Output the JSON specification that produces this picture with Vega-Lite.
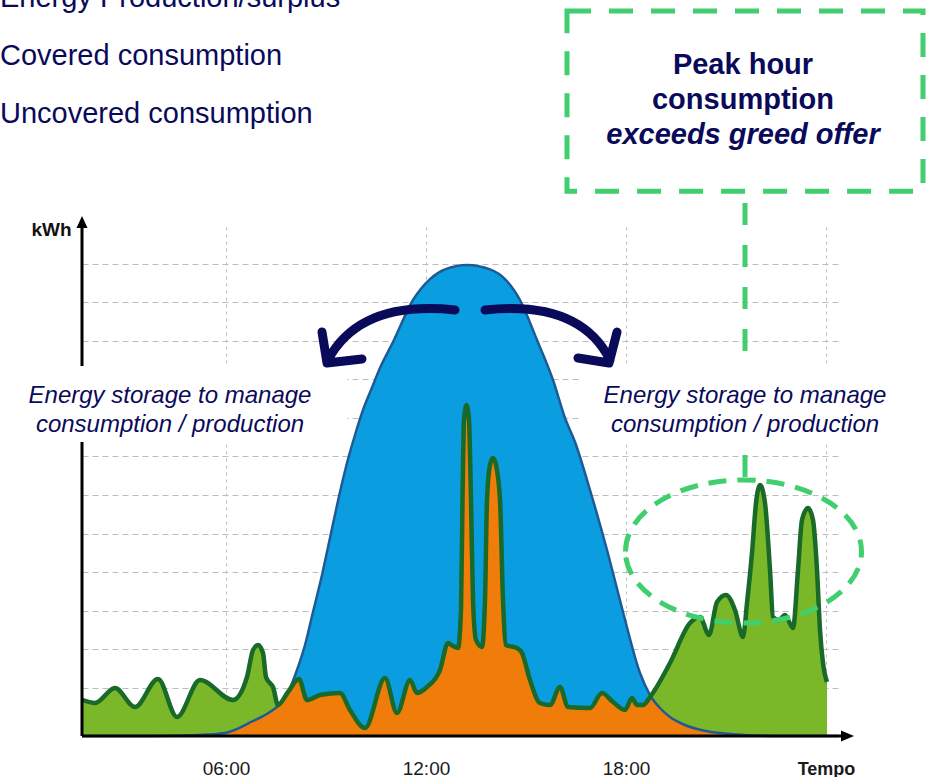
{
  "$schema": "https://vega.github.io/schema/vega-lite/v6.json",
  "width": 756,
  "height": 509,
  "autosize": {"type": "none"},
  "padding": {"left": 82, "top": 227, "right": 99, "bottom": 41},
  "background": "white",
  "config": {"view": {"stroke": null}},
  "datasets": {
    "prod": [{"h":1.68,"v":0},{"h":3.72,"v":0},{"h":5.22,"v":0.026},{"h":5.97,"v":0.078},{"h":6.81,"v":0.389},{"h":7.32,"v":0.622},{"h":7.62,"v":0.83},{"h":7.92,"v":1.245},{"h":8.13,"v":1.712},{"h":8.37,"v":2.36},{"h":8.61,"v":3.216},{"h":8.88,"v":4.175},{"h":9.12,"v":5.135},{"h":9.42,"v":6.328},{"h":9.63,"v":7.08},{"h":9.87,"v":7.806},{"h":10.11,"v":8.454},{"h":10.35,"v":8.973},{"h":10.62,"v":9.544},{"h":11.01,"v":10.218},{"h":11.61,"v":11.307},{"h":12.12,"v":11.85},{"h":12.57,"v":12.1},{"h":13.23,"v":12.215},{"h":13.92,"v":12.1},{"h":14.37,"v":11.85},{"h":14.82,"v":11.307},{"h":15.33,"v":10.27},{"h":15.81,"v":9.232},{"h":16.17,"v":8.247},{"h":16.47,"v":7.625},{"h":16.92,"v":6.38},{"h":17.43,"v":4.824},{"h":17.91,"v":3.216},{"h":18.42,"v":1.634},{"h":18.72,"v":1.063},{"h":19.02,"v":0.726},{"h":19.32,"v":0.493},{"h":19.77,"v":0.285},{"h":20.13,"v":0.182},{"h":21.12,"v":0.052},{"h":22.62,"v":0},{"h":24.36,"v":0}],
    "cons": [{"h":1.68,"v":0.934},{"h":2.07,"v":0.856},{"h":2.67,"v":1.245},{"h":3.27,"v":0.752},{"h":3.96,"v":1.478},{"h":4.53,"v":0.493},{"h":5.22,"v":1.452},{"h":6.21,"v":0.934},{"h":6.63,"v":1.53},{"h":6.81,"v":2.23},{"h":6.96,"v":2.36},{"h":7.11,"v":2.153},{"h":7.2,"v":1.53},{"h":7.29,"v":1.4},{"h":7.41,"v":1.271},{"h":7.56,"v":0.804},{"h":7.86,"v":1.141},{"h":8.19,"v":1.478},{"h":8.43,"v":0.934},{"h":8.82,"v":1.063},{"h":9.42,"v":1.115},{"h":9.72,"v":0.674},{"h":10.17,"v":0.207},{"h":10.77,"v":1.504},{"h":11.13,"v":0.596},{"h":11.52,"v":1.452},{"h":11.73,"v":1.115},{"h":12.03,"v":1.271},{"h":12.42,"v":1.712},{"h":12.66,"v":2.412},{"h":12.81,"v":2.334},{"h":12.96,"v":2.282},{"h":13.05,"v":3.268},{"h":13.095,"v":6.12},{"h":13.14,"v":8.195},{"h":13.215,"v":8.584},{"h":13.29,"v":8.195},{"h":13.35,"v":6.12},{"h":13.41,"v":3.527},{"h":13.5,"v":2.49},{"h":13.68,"v":2.308},{"h":13.77,"v":3.527},{"h":13.83,"v":6.12},{"h":13.92,"v":7.028},{"h":14.01,"v":7.21},{"h":14.1,"v":7.028},{"h":14.22,"v":6.12},{"h":14.31,"v":3.527},{"h":14.4,"v":2.36},{"h":14.73,"v":2.282},{"h":14.88,"v":2.153},{"h":15.12,"v":1.452},{"h":15.42,"v":0.856},{"h":15.72,"v":0.804},{"h":16.02,"v":1.271},{"h":16.26,"v":0.752},{"h":16.92,"v":0.726},{"h":17.28,"v":1.115},{"h":17.61,"v":0.882},{"h":17.97,"v":0.674},{"h":18.18,"v":0.985},{"h":18.33,"v":0.804},{"h":18.51,"v":0.804},{"h":18.72,"v":1.011},{"h":19.32,"v":1.893},{"h":19.92,"v":2.93},{"h":20.22,"v":3.086},{"h":20.49,"v":2.619},{"h":20.73,"v":3.475},{"h":21.0,"v":3.657},{"h":21.27,"v":3.268},{"h":21.51,"v":2.567},{"h":21.63,"v":3.449},{"h":21.78,"v":4.746},{"h":21.9,"v":6.042},{"h":22.02,"v":6.509},{"h":22.17,"v":6.042},{"h":22.32,"v":4.305},{"h":22.41,"v":3.086},{"h":22.59,"v":3.008},{"h":22.77,"v":3.138},{"h":23.01,"v":2.801},{"h":23.16,"v":4.305},{"h":23.28,"v":5.602},{"h":23.46,"v":5.913},{"h":23.61,"v":5.602},{"h":23.73,"v":4.305},{"h":23.82,"v":2.749},{"h":23.91,"v":1.893},{"h":24.03,"v":1.4}],
    "cov": [{"h":1.68,"v":0},{"h":3.72,"v":0},{"h":5.22,"v":0.026},{"h":5.97,"v":0.078},{"h":6.81,"v":0.389},{"h":7.32,"v":0.622},{"h":7.56,"v":0.79},{"h":7.86,"v":1.141},{"h":8.19,"v":1.478},{"h":8.43,"v":0.934},{"h":8.82,"v":1.063},{"h":9.42,"v":1.115},{"h":9.72,"v":0.674},{"h":10.17,"v":0.207},{"h":10.77,"v":1.504},{"h":11.13,"v":0.596},{"h":11.52,"v":1.452},{"h":11.73,"v":1.115},{"h":12.03,"v":1.271},{"h":12.42,"v":1.712},{"h":12.66,"v":2.412},{"h":12.81,"v":2.334},{"h":12.96,"v":2.282},{"h":13.05,"v":3.268},{"h":13.095,"v":6.12},{"h":13.14,"v":8.195},{"h":13.215,"v":8.584},{"h":13.29,"v":8.195},{"h":13.35,"v":6.12},{"h":13.41,"v":3.527},{"h":13.5,"v":2.49},{"h":13.68,"v":2.308},{"h":13.77,"v":3.527},{"h":13.83,"v":6.12},{"h":13.92,"v":7.028},{"h":14.01,"v":7.21},{"h":14.1,"v":7.028},{"h":14.22,"v":6.12},{"h":14.31,"v":3.527},{"h":14.4,"v":2.36},{"h":14.73,"v":2.282},{"h":14.88,"v":2.153},{"h":15.12,"v":1.452},{"h":15.42,"v":0.856},{"h":15.72,"v":0.804},{"h":16.02,"v":1.271},{"h":16.26,"v":0.752},{"h":16.92,"v":0.726},{"h":17.28,"v":1.115},{"h":17.61,"v":0.882},{"h":17.97,"v":0.674},{"h":18.18,"v":0.985},{"h":18.33,"v":0.804},{"h":18.51,"v":0.804},{"h":18.72,"v":1.011},{"h":19.02,"v":0.726},{"h":19.32,"v":0.493},{"h":19.77,"v":0.285},{"h":20.13,"v":0.182},{"h":21.12,"v":0.052},{"h":22.62,"v":0},{"h":24.03,"v":0}],
    "axislines": [{"h":1.68,"h2":1.68,"v":0,"v2":13.25},{"h":1.68,"h2":24.5,"v":0,"v2":0}],
    "yarrow": [{"h":1.68,"v":13.33}],
    "xarrow": [{"h":24.63,"v":0}],
    "connector": [{"h":21.57,"h2":21.57,"v":13.823,"v2":6.717}],
    "whiteboxes": [{"h":-0.18,"h2":9.63,"v":9.595,"v2":7.624},{"h":16.62,"h2":26.22,"v":9.595,"v2":7.624}],
    "box": [{"h":16.23,"h2":26.91,"v":18.8,"v2":14.13}],
    "ellipse": [{"h":21.525,"v":4.785}],
    "larrow": [{"h":10.92,"v":10.399}],
    "rarrow": [{"h":15.72,"v":10.399}],
    "legend": [{"h":-0.78,"v":18.905,"t":"Energy Production/surplus"},{"h":-0.78,"v":17.401,"t":"Covered consumption"},{"h":-0.78,"v":15.897,"t":"Uncovered consumption"}],
    "boxbold": [{"h":21.51,"v":17.168,"t":"Peak hour"},{"h":21.51,"v":16.26,"t":"consumption"}],
    "boxital": [{"h":21.51,"v":15.353,"t":"exceeds greed offer"}],
    "storage": [{"h":4.32,"v":8.636,"t":"Energy storage to manage"},{"h":4.32,"v":7.884,"t":"consumption / production"},{"h":21.57,"v":8.636,"t":"Energy storage to manage"},{"h":21.57,"v":7.884,"t":"consumption / production"}]
  },
  "encoding": {
    "x": {
      "field": "h", "type": "quantitative",
      "scale": {"domain": [1.68, 24.36], "nice": false, "zero": false},
      "axis": {
        "values": [6, 12, 18, 24], "grid": true, "gridDash": [3, 4], "gridColor": "#bdbdbd", "gridWidth": 1,
        "domain": false, "ticks": false, "tickSize": 0, "labelPadding": 38, "labelBaseline": "alphabetic",
        "labelFont": "Liberation Sans",
        "labelFontSize": {"condition": {"test": "datum.value == 24", "value": 18}, "value": 19},
        "labelColor": "#1a1a1a",
        "labelFlush": false, "labelOverlap": false, "title": null,
        "labelExpr": "datum.value == 24 ? 'Tempo' : (datum.value < 10 ? '0' : '') + datum.value + ':00'",
        "labelFontWeight": {"condition": {"test": "datum.value == 24", "value": "bold"}, "value": "normal"}
      }
    },
    "y": {
      "field": "v", "type": "quantitative",
      "scale": {"domain": [0, 13.2], "nice": false, "zero": false},
      "axis": {
        "values": [1.25, 2.25, 3.25, 4.25, 5.25, 6.25, 7.25, 8.25, 9.25, 10.25, 11.25, 12.25],
        "grid": true, "gridDash": [6, 4], "gridColor": "#bdbdbd", "gridWidth": 1,
        "labels": false, "ticks": false, "domain": false,
        "title": "kWh", "titleAngle": 0, "titleX": -11, "titleY": 2, "titleAlign": "right", "titleBaseline": "middle",
        "titleFont": "Liberation Sans", "titleFontSize": 19, "titleFontWeight": "bold", "titleColor": "#111111"
      }
    }
  },
  "layer": [
    {"data": {"name": "cons"}, "mark": {"type": "area", "interpolate": "monotone", "color": "#7ab82a"}},
    {"data": {"name": "prod"}, "mark": {"type": "area", "interpolate": "monotone", "color": "#0a9ee0"}},
    {"data": {"name": "cov"}, "mark": {"type": "area", "interpolate": "monotone", "color": "#f07d0a"}},
    {"data": {"name": "prod"}, "mark": {"type": "line", "interpolate": "monotone", "color": "#1f5a96", "strokeWidth": 2.5}},
    {"data": {"name": "cons"}, "mark": {"type": "line", "interpolate": "monotone", "color": "#196928", "strokeWidth": 4.5, "strokeJoin": "round"}},
    {"data": {"name": "axislines"}, "mark": {"type": "rule", "color": "#000000", "strokeWidth": 3}, "encoding": {"x2": {"field": "h2"}, "y2": {"field": "v2"}}},
    {"data": {"name": "yarrow"}, "mark": {"type": "point", "shape": "M 0 -6 L 5.5 6 L -5.5 6 Z", "size": 4, "filled": true, "fill": "#000000", "opacity": 1, "strokeWidth": 0}},
    {"data": {"name": "xarrow"}, "mark": {"type": "point", "shape": "M 7 0 L -6 -5.5 L -6 5.5 Z", "size": 4, "filled": true, "fill": "#000000", "opacity": 1, "strokeWidth": 0}},
    {"data": {"name": "connector"}, "mark": {"type": "rule", "color": "#40ce6e", "strokeWidth": 5, "strokeDash": [22, 20]}, "encoding": {"x2": {"field": "h2"}, "y2": {"field": "v2"}}},
    {"data": {"name": "whiteboxes"}, "mark": {"type": "rect", "color": "#ffffff", "opacity": 1}, "encoding": {"x2": {"field": "h2"}, "y2": {"field": "v2"}}},
    {"data": {"name": "box"}, "mark": {"type": "rect", "filled": false, "stroke": "#40ce6e", "strokeWidth": 5, "strokeDash": [24, 18], "opacity": 1}, "encoding": {"x2": {"field": "h2"}, "y2": {"field": "v2"}}},
    {"data": {"name": "ellipse"}, "mark": {"type": "point", "shape": "M -118 0 C -118 -39.5 -65.2 -71.5 0 -71.5 C 65.2 -71.5 118 -39.5 118 0 C 118 39.5 65.2 71.5 0 71.5 C -65.2 71.5 -118 39.5 -118 0 Z", "size": 4, "filled": false, "stroke": "#40ce6e", "strokeWidth": 5, "strokeDash": [18, 11], "opacity": 1}},
    {"data": {"name": "larrow"}, "mark": {"type": "point", "shape": "M 65 -25 Q -30 -35 -62 25 M -68 -3 L -63 28 L -28 24", "size": 4, "filled": false, "stroke": "#0a0a5a", "strokeWidth": 9, "strokeCap": "round", "strokeJoin": "round", "opacity": 1}},
    {"data": {"name": "rarrow"}, "mark": {"type": "point", "shape": "M -65 -25 Q 30 -35 60 25 M 67 -3 L 59 28 L 28 23", "size": 4, "filled": false, "stroke": "#0a0a5a", "strokeWidth": 9, "strokeCap": "round", "strokeJoin": "round", "opacity": 1}},
    {"data": {"name": "legend"}, "mark": {"type": "text", "align": "left", "baseline": "alphabetic", "font": "Liberation Sans", "fontSize": 29, "color": "#0a0a5a"}, "encoding": {"text": {"field": "t"}}},
    {"data": {"name": "boxbold"}, "mark": {"type": "text", "align": "center", "baseline": "alphabetic", "font": "Liberation Sans", "fontSize": 29, "fontWeight": "bold", "color": "#0a0a5a"}, "encoding": {"text": {"field": "t"}}},
    {"data": {"name": "boxital"}, "mark": {"type": "text", "align": "center", "baseline": "alphabetic", "font": "Liberation Sans", "fontSize": 29, "fontWeight": "bold", "fontStyle": "italic", "color": "#0a0a5a"}, "encoding": {"text": {"field": "t"}}},
    {"data": {"name": "storage"}, "mark": {"type": "text", "align": "center", "baseline": "alphabetic", "font": "Liberation Sans", "fontSize": 24, "fontStyle": "italic", "color": "#0a0a5a"}, "encoding": {"text": {"field": "t"}}}
  ]
}
